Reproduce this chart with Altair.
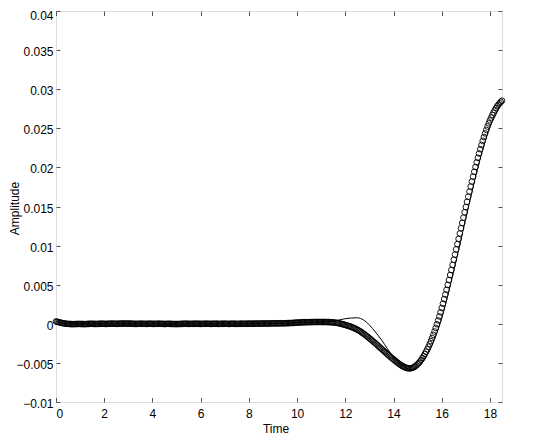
import altair as alt
import pandas as pd

# ---- data (values in units of 1e-4) ----
x_ticks = [0, 2, 4, 6, 8, 10, 12, 14, 16, 18]
y_ticks = [-0.01, -0.005, 0, 0.005, 0.01, 0.015, 0.02, 0.025, 0.03, 0.035, 0.04]

circle_dt = 0.05
circle_vals = [
    3.0, 2.6, 2.2, 1.8, 1.4, 1.0, 0.7, 0.4, 0.2, 0.0,
    -0.1, -0.2, -0.3, -0.4, -0.4, -0.4, -0.3, -0.3, -0.2, -0.2,
    -0.2, -0.3, -0.3, -0.4, -0.4, -0.3, -0.2, -0.1, 0.0, 0.0,
    0.0, -0.1, -0.1, -0.2, -0.2, -0.1, 0.0, 0.1, 0.1, 0.0,
    0.0, -0.1, -0.1, 0.0, 0.1, 0.1, 0.2, 0.2, 0.1, 0.1,
    0.0, 0.0, 0.1, 0.2, 0.2, 0.3, 0.3, 0.3, 0.2, 0.2,
    0.3, 0.3, 0.2, 0.1, 0.0, 0.0, -0.1, -0.1, 0.0, 0.0,
    0.1, 0.1, 0.0, 0.0, -0.1, -0.1, 0.0, 0.1, 0.1, 0.0,
    0.0, -0.1, -0.1, 0.0, 0.0, 0.1, 0.1, 0.0, -0.1, -0.1,
    -0.2, -0.2, -0.1, 0.0, 0.0, -0.1, -0.2, -0.2, -0.3, -0.3,
    -0.3, -0.3, -0.2, -0.2, -0.1, 0.0, 0.0, 0.1, 0.1, 0.0,
    0.0, -0.1, -0.1, 0.0, 0.0, 0.1, 0.1, 0.1, 0.0, 0.0,
    -0.1, -0.1, 0.0, 0.0, 0.1, 0.1, 0.0, 0.0, -0.1, -0.1,
    0.0, 0.0, 0.1, 0.1, 0.0, -0.1, -0.1, 0.0, 0.0, 0.1,
    0.1, 0.0, 0.0, -0.1, -0.1, 0.0, 0.1, 0.1, 0.0, 0.0,
    -0.1, -0.1, 0.0, 0.1, 0.1, 0.1, 0.0, 0.0, 0.1, 0.1,
    0.2, 0.2, 0.1, 0.1, 0.2, 0.2, 0.3, 0.3, 0.2, 0.2,
    0.3, 0.3, 0.4, 0.4, 0.3, 0.3, 0.4, 0.4, 0.5, 0.5,
    0.5, 0.6, 0.6, 0.5, 0.5, 0.6, 0.7, 0.7, 0.6, 0.6,
    0.7, 0.8, 0.8, 0.9, 1.0, 1.0, 1.1, 1.2, 1.3, 1.4,
    1.5, 1.6, 1.7, 1.8, 1.9, 1.9, 2.0, 2.0, 2.1, 2.1,
    2.1, 2.2, 2.2, 2.2, 2.3, 2.3, 2.3, 2.3, 2.3, 2.3,
    2.3, 2.3, 2.3, 2.3, 2.3, 2.2, 2.2, 2.1, 2.0, 1.9,
    1.8, 1.6, 1.4, 1.2, 0.9, 0.6, 0.2, -0.2, -0.6, -1.0,
    -1.5, -1.9, -2.4, -2.9, -3.4, -4.0, -4.6, -5.3, -6.0, -6.7,
    -7.5, -8.4, -9.3, -10.3, -11.4, -12.5, -13.6, -14.8, -16.0, -17.2,
    -18.5, -19.8, -21.1, -22.4, -23.7, -25.0, -26.4, -27.8, -29.2, -30.6,
    -32.0, -33.4, -34.8, -36.2, -37.6, -39.0, -40.4, -41.7, -43.0, -44.3,
    -45.5, -46.8, -48.1, -49.3, -50.5, -51.6, -52.7, -53.7, -54.6, -55.3,
    -56.0, -56.5, -56.9, -57.0, -56.9, -56.6, -56.1, -55.4, -54.3, -53.1,
    -51.7, -50.0, -48.2, -46.1, -43.8, -41.3, -38.6, -35.7, -32.6, -29.3,
    -25.8, -22.1, -18.2, -14.1, -9.8, -5.3, -0.6, 4.3, 9.4, 14.7,
    20.2, 25.8, 31.6, 37.5, 43.5, 49.7, 56.0, 62.4, 68.8, 75.3,
    81.9, 88.5, 95.2, 101.9, 108.6, 115.4, 122.2, 129.0, 135.8, 142.6,
    149.3, 156.0, 162.6, 169.1, 175.5, 181.9, 188.2, 194.4, 200.5, 206.4,
    212.2, 217.8, 223.3, 228.7, 233.9, 238.8, 243.5, 248.0, 252.3, 256.3,
    260.1, 263.7, 267.1, 270.2, 273.1, 275.7, 278.1, 280.2, 282.1, 283.8,
    285.3,
]

line_t = [0.0, 0.25, 0.5, 1.0, 1.5, 2.0, 2.5, 3.0, 3.5, 4.0, 4.5, 5.0, 5.5, 6.0,
          6.5, 7.0, 7.5, 8.0, 8.5, 9.0, 9.5, 10.0, 10.5, 11.0, 11.25, 11.5,
          11.75, 12.0, 12.25, 12.5, 12.75, 13.0, 13.25, 13.5, 13.75, 14.0,
          14.25, 14.5, 14.75, 15.0, 15.25, 15.5, 15.75, 16.0, 16.25, 16.5,
          16.75, 17.0, 17.25, 17.5, 17.75, 18.0, 18.25, 18.5]
line_vals = [3.0, 1.0, -0.1, -0.2, 0.0, 0.0, 0.0, 0.3, 0.1, 0.0, -0.2, -0.3, 0.0, -0.1,
             0.0, 0.1, -0.1, 0.2, 0.3, 0.5, 0.7, 1.5, 2.1, 2.3, 2.5, 3.0,
             5.0, 6.5, 7.4, 7.7, 5.0, -1.5, -10.5, -20.5, -32.0, -43.0,
             -51.0, -56.0, -58.8, -55.5, -47.0, -34.0, -16.0, 7.0, 36.0, 68.0,
             101.0, 135.0, 168.0, 200.0, 228.0, 252.0, 268.0, 282.0]

# ---- tables ----
df_c = pd.DataFrame({
    "t": [round(i * circle_dt, 2) for i in range(len(circle_vals))],
    "v": [v * 1e-4 for v in circle_vals],
})
df_l = pd.DataFrame({"t": line_t, "v": [v * 1e-4 for v in line_vals]})

W, H = 446, 391
FONT = "Liberation Sans"
xs = alt.Scale(domain=[0, 18.5], nice=False, zero=False)
ys = alt.Scale(domain=[-0.01, 0.04], nice=False, zero=False)

tick_style = dict(labels=False, title=None, domain=False, grid=False, ticks=True,
                  tickColor="#555555", tickWidth=1)

circles = alt.Chart(df_c).mark_point(
    shape="circle", filled=False, size=32, color="black", strokeWidth=0.9, opacity=1
).encode(
    x=alt.X("t:Q", scale=xs, axis=alt.Axis(
        orient="bottom", values=x_ticks, format="d", ticks=False, domain=False, grid=False,
        labelFont=FONT, labelFontSize=12, labelColor="black", labelPadding=6,
        title="Time", titleFont=FONT, titleFontSize=12, titleFontWeight="normal",
        titleColor="black", titleX=219.5, titleY=30, titleBaseline="alphabetic")),
    y=alt.Y("v:Q", scale=ys, axis=alt.Axis(
        orient="left", values=y_ticks, format="~g", ticks=False, domain=False, grid=False,
        labelFont=FONT, labelFontSize=12, labelColor="black", labelPadding=3,
        labelOffset={"condition": {"test": "datum.value > 0.039", "value": 4}, "value": 1.5},
        title="Amplitude", titleFont=FONT, titleFontSize=12, titleFontWeight="normal",
        titleColor="black", titleX=-47, titleY=197, titleBaseline="top", titleAngle=-90)),
)

line = alt.Chart(df_l).mark_line(color="black", strokeWidth=1, interpolate="monotone").encode(
    x=alt.X("t:Q", scale=xs, axis=alt.Axis(orient="top", offset=-H, values=x_ticks,
                                           tickSize=4.5, **tick_style)),
    y=alt.Y("v:Q", scale=ys, axis=alt.Axis(orient="right", offset=-W, values=y_ticks,
                                           tickSize=4, **tick_style)),
)

ghost = alt.Chart(df_l).mark_point(opacity=0).encode(
    x=alt.X("t:Q", scale=xs, axis=alt.Axis(orient="bottom", offset=-H, values=x_ticks,
                                           tickSize=4.5, **tick_style)),
    y=alt.Y("v:Q", scale=ys, axis=alt.Axis(orient="left", offset=-W, values=y_ticks,
                                           tickSize=4, **tick_style)),
)

chart = alt.layer(ghost, line, circles).resolve_axis(
    x="independent", y="independent"
).properties(
    width=W, height=H,
    autosize=alt.AutoSizeParams(type="none"),
    padding={"left": 48, "top": 3, "right": 35, "bottom": 34},
).configure_view(stroke="black", strokeWidth=1).configure(background="white")

chart.save("out.html", embed_options={"renderer": "svg", "actions": False})
